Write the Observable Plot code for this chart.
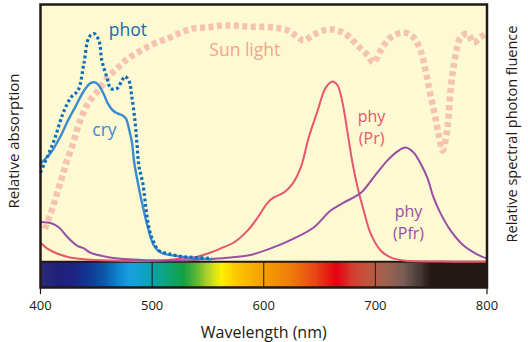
<!DOCTYPE html>
<html><head><meta charset="utf-8">
<script src="https://cdn.jsdelivr.net/npm/d3@7"></script>
<script src="https://cdn.jsdelivr.net/npm/@observablehq/plot@0.6"></script>
<style>body{margin:0;background:#fff}#chart{width:528px;height:342px}</style>
</head><body><div id="chart"></div>
<script>
// ---- data (wavelength nm, relative value 0-100) ----
const wlTicks = [400, 500, 600, 700, 800];

const cryNm  = [400,409.4,418.3,424.6,431.8,438.0,444.3,448.8,452.3,456.8,460.4,464.9,469.4,473.8,476.5,479.2,481.9,484.1,487.2,489.9,496.2,501.6,507.8,519.5,532.0,543.6,552.6];
const cryVal = [38.2,42.5,49.1,54.9,60.7,65.8,69.3,69.7,68.5,65.0,61.5,58.8,57.6,56.8,55.7,51.8,46.4,38.2,30.8,25.0,13.3,6.3,3.6,2.4,1.7,1.3,0.9];

const photNm  = [400,412.1,420.1,427.3,433.6,438.9,443.4,447.9,452.3,455.0,459.5,463.1,468.5,472.9,475.6,479.2,481.9,484.6,486.4,488.1,491.7,494.4,497.1,500.7,506.0,514.1,525.7,537.4,553.5];
const photVal = [34.7,47.1,57.6,63.9,66.6,77.1,87.2,88.7,86.0,78.2,71.6,67.3,67.3,70.4,72.0,70.4,63.9,54.9,46.0,37.4,30.4,21.1,13.3,8.3,4.4,3.2,2.1,1.7,1.3];

const prNm  = [400,405.8,414.8,426.4,441.6,472.0,507.8,523.0,537.4,552.6,561.5,573.2,585.7,594.6,603.6,609.0,617.9,625.9,633.1,640.3,648.3,655.5,661.7,666.2,670.7,675.2,679.6,684.1,689.5,695.7,704.7,713.6,725.3,758.4,800];
const prVal = [7.5,5.2,3.2,1.7,0.9,0.4,0.5,1.1,1.7,3.6,5.2,7.5,12.2,17.2,23.0,25.0,26.9,30.4,36.6,48.3,58.8,67.7,70.1,68.5,61.5,49.9,38.2,28.9,20.0,11.0,4.4,1.7,0.5,0.1,0];

const pfrNm  = [400,410.3,416.6,423.7,432.7,438.9,444.3,462.2,483.7,507.8,534.7,552.6,570.5,585.7,606.3,626.8,644.7,659.9,671.6,686.8,698.4,710.9,719.9,727.1,734.2,740.5,746.8,752.1,758.4,767.3,779.0,791.5,799.5];
const pfrVal = [15.5,14.9,13.3,9.8,6.3,5.2,3.6,1.7,0.9,0.5,0.6,1.1,1.7,2.4,5.2,9.0,13.3,19.9,23.0,26.7,32.8,39.4,42.9,44.4,42.5,38.2,32.4,25.0,18.8,12.2,6.3,2.8,1.3];

const sunNm  = [404,411.2,416.6,420.1,422.8,429.1,434.5,442.5,451.5,460.4,469.4,478.3,489.9,501.6,514.1,525.7,537.4,549.9,561.5,573.2,585.7,609,621.5,628.6,635.8,644.7,657.3,666.2,675.2,684.1,693.1,698.4,704.7,713.6,725.3,734.2,740.5,745,748.6,753,756.6,760.2,763.8,765.5,767.3,770,773.6,776.3,782.6,787.9,794.2,798.7];
const sunVal = [12.8,21.4,29.2,33.9,38.1,45.9,53.7,61.5,66.5,71.6,75.5,79,82.1,84.8,86.8,89.1,90.7,91.1,91.8,91.8,91.4,91.1,89.9,87.9,86,88.3,90.3,89.9,87.9,84,80.2,77.4,82.1,87.2,89.1,87.2,82.1,74.3,66.5,57.6,49.8,43.2,49.8,56,66.5,75.5,84,87.2,88.7,85.2,87.2,88.7];

// spectrum bar colour stops
const specStops  = [400,415,430,445,458,470,480,490,500,512,528,540,552,562,575,590,605,625,645,665,680,695,710,725,740,750,800];
const specColors = ["#2b2c7e","#1f2079","#1c2484","#103c95","#0b5aac","#0d86cf","#18a0e0","#0ea2ce","#0aa2ac","#0ea47c","#12a044","#5fb834","#c0d824","#fff100","#fcc800","#f7ad00","#f39800","#ee7a0a","#e84a16","#e50012","#d4402f","#bd5640","#9e6150","#7a5d55","#443835","#231815","#231815"];

// annotation labels
const labelText  = ["phot","cry","Sun light","phy\n(Pr)","phy\n(Pfr)"];
const labelNm    = [478.3,457.3,583,696.6,729.7];
const labelVal   = [89.9,50.9,82.1,52.8,15.9];
const labelColor = ["#0f6cb6","#3c8bd0","#f4a58a","#e8566b","#9a4ea6"];

const zip = (xs, ys) => xs.map((x, i) => ({nm: x, v: ys[i]}));
const cry = zip(cryNm, cryVal), phot = zip(photNm, photVal), pr = zip(prNm, prVal),
      pfr = zip(pfrNm, pfrVal), sun = zip(sunNm, sunVal);
const labels = labelText.map((t, i) => ({t, nm: labelNm[i], v: labelVal[i], c: labelColor[i]}));
const single = labels.filter(d => !d.t.includes("\n"));
const multi = labels.filter(d => d.t.includes("\n"));

const BAR_LOW = -10;
const spectrum = d3.scaleLinear().domain(specStops).range(specColors).interpolate(d3.interpolateRgb);
const cells = d3.range(400, 800, 1);

const FONT = "Open Sans";
const chart = Plot.plot({
  width: 528, height: 342,
  marginLeft: 40, marginRight: 41.5, marginTop: 4, marginBottom: 55,
  style: {fontFamily: FONT, background: "#fff"},
  x: {domain: [400, 800]},
  y: {domain: [BAR_LOW, 100], axis: null},
  color: {type: "identity"},
  marks: [
    Plot.frame({fill: "#fdf9d2", stroke: "none"}),
    Plot.rect(cells, {x1: d => d, x2: d => d + 1, y1: () => BAR_LOW, y2: () => 0, fill: d => spectrum(d), shapeRendering: "crispEdges"}),
    Plot.ruleY([0], {stroke: "#231815", strokeWidth: 2}),
    Plot.ruleX(wlTicks.slice(1, -1), {y1: () => BAR_LOW, y2: () => 0, stroke: "#231815", strokeWidth: 1}),
    Plot.line(sun, {x: "nm", y: "v", stroke: "#f6c3b1", strokeWidth: 6.5, strokeDasharray: "5,3.5", strokeLinecap: "butt", curve: "catmull-rom"}),
    Plot.line(pr, {x: "nm", y: "v", stroke: "#e8566b", strokeWidth: 2, curve: "catmull-rom"}),
    Plot.line(pfr, {x: "nm", y: "v", stroke: "#9a4ea6", strokeWidth: 2, curve: "catmull-rom"}),
    Plot.line(cry, {x: "nm", y: "v", stroke: "#3c8bd0", strokeWidth: 2.4, curve: "catmull-rom"}),
    Plot.line(phot, {x: "nm", y: "v", stroke: "#0f6cb6", strokeWidth: 3.2, strokeDasharray: "2.8 2.6", strokeLinecap: "butt", curve: "catmull-rom"}),
    Plot.text(single, {x: "nm", y: "v", text: "t", fill: "c", fontSize: 17.5, textAnchor: "middle", lineAnchor: "middle"}),
    Plot.text(multi, {x: "nm", y: "v", text: "t", fill: "c", fontSize: 16, lineHeight: 1.4, textAnchor: "middle", lineAnchor: "middle"}),
    Plot.frame({stroke: "#231815", strokeWidth: 2.5}),
    Plot.ruleX([wlTicks[0], wlTicks[wlTicks.length - 1]], {y1: () => BAR_LOW, y2: () => BAR_LOW - 2.8, stroke: "#231815", strokeWidth: 1.2, clip: false}),
    Plot.axisX({ticks: wlTicks, tickSize: 0, tickPadding: 13, label: null, fontSize: 13, fill: "#231815", tickFormat: d => String(d)}),
    Plot.text(["Wavelength (nm)"], {frameAnchor: "bottom", dy: 45, textAnchor: "middle", lineAnchor: "middle", fontSize: 16, fill: "#231815"}),
    Plot.text(["Relative absorption"], {frameAnchor: "left", dx: -26, dy: -5, rotate: -90, textAnchor: "middle", lineAnchor: "middle", fontSize: 15, fill: "#231815"}),
    Plot.text(["Relative spectral photon fluence"], {frameAnchor: "right", dx: 25.5, dy: -12, rotate: -90, textAnchor: "middle", lineAnchor: "middle", fontSize: 14.5, fill: "#231815"})
  ]
});
document.getElementById("chart").appendChild(chart);
</script>
</body></html>
